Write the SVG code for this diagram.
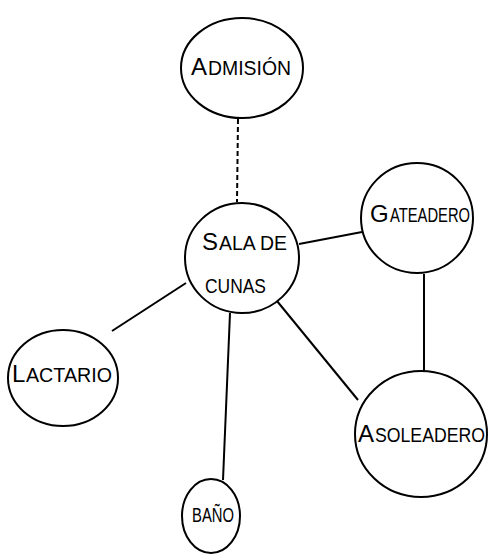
<svg xmlns="http://www.w3.org/2000/svg" width="500" height="559" viewBox="0 0 500 559">
<style>
.n{fill:#fff;stroke:#000;stroke-width:2}
.c{stroke:#000;stroke-width:2;fill:none}
.d{stroke-dasharray:5 3}
text{font-family:"Liberation Sans",Arial,sans-serif;font-size:20px;fill:#000}
.b{font-size:24px}
</style>
<rect width="500" height="559" fill="#fff"/>
<g id="connectors">
<line class="c d" x1="238" y1="119" x2="237" y2="202"/>
<line class="c" x1="299" y1="244" x2="362" y2="232"/>
<line class="c" x1="186" y1="283" x2="112" y2="331"/>
<line class="c" x1="277" y1="301" x2="358" y2="400"/>
<line class="c" x1="230" y1="313" x2="223" y2="480"/>
<line class="c" x1="424" y1="274" x2="424" y2="372"/>
</g>
<g id="admision">
<ellipse class="n" cx="242" cy="68" rx="61" ry="50"/>
<text class="b" x="191" y="75">A</text>
<text x="208" y="75" textLength="83" lengthAdjust="spacingAndGlyphs">DMISIÓN</text>
</g>
<g id="sala-de-cunas">
<ellipse class="n" cx="242" cy="258" rx="57" ry="55"/>
<text class="b" x="202" y="250">S</text>
<text x="219" y="250" textLength="68" lengthAdjust="spacingAndGlyphs">ALA  DE</text>
<text x="205" y="293" textLength="61" lengthAdjust="spacingAndGlyphs">CUNAS</text>
</g>
<g id="gateadero">
<ellipse class="n" cx="417" cy="218" rx="56" ry="55"/>
<text class="b" x="370" y="222">G</text>
<text x="390" y="222" textLength="80" lengthAdjust="spacingAndGlyphs">ATEADERO</text>
</g>
<g id="lactario">
<ellipse class="n" cx="63" cy="378" rx="55" ry="48"/>
<text class="b" x="12" y="382">L</text>
<text x="26" y="382" textLength="86" lengthAdjust="spacingAndGlyphs">ACTARIO</text>
</g>
<g id="asoleadero">
<ellipse class="n" cx="421" cy="434" rx="66" ry="63"/>
<text class="b" x="358" y="442">A</text>
<text x="375" y="442" textLength="110" lengthAdjust="spacingAndGlyphs">SOLEADERO</text>
</g>
<g id="bano">
<ellipse class="n" cx="211" cy="516" rx="29" ry="37"/>
<text x="192" y="522" font-size="21" textLength="42" lengthAdjust="spacingAndGlyphs">BAÑO</text>
</g>
</svg>
